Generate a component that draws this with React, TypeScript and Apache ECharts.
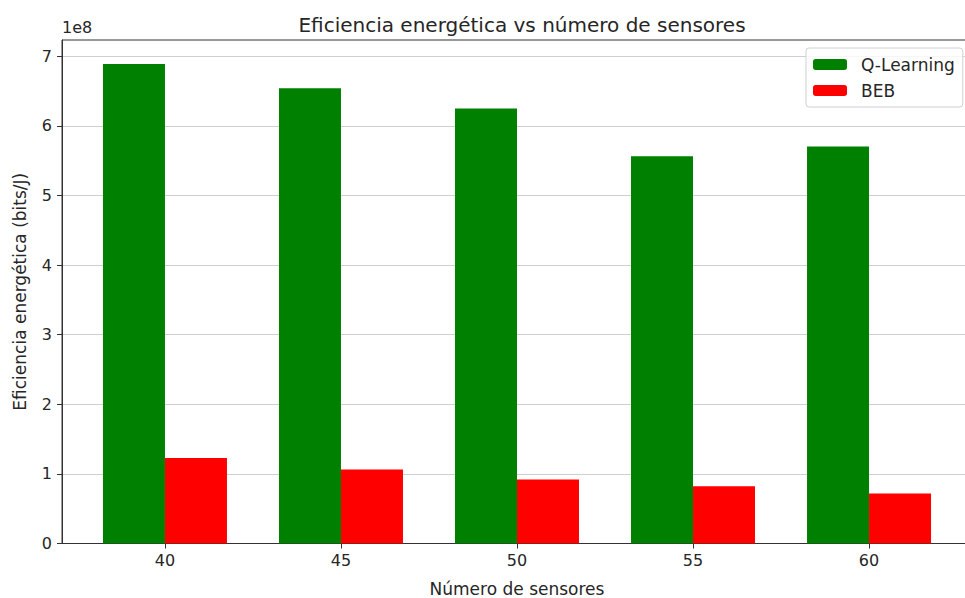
import React, { useEffect, useRef } from "react";
import * as echarts from "echarts";

const categories = ["40", "45", "50", "55", "60"];
const qLearning = [6.89e8, 6.54e8, 6.25e8, 5.565e8, 5.705e8];
const beb = [1.23e8, 1.065e8, 0.92e8, 0.823e8, 0.718e8];
const yTicks = [0, 1e8, 2e8, 3e8, 4e8, 5e8, 6e8, 7e8];

const FONT = "DejaVu Sans";
const TXT = "#262626";

export default function App() {
  const ref = useRef<HTMLDivElement>(null);
  useEffect(() => {
    if (!ref.current) return;
    const chart = echarts.init(ref.current, null, { renderer: "svg" });
    const idx = categories.map((_, i) => i);
    chart.setOption({
      animation: false,
      backgroundColor: "#fff",
      textStyle: { fontFamily: FONT },
      title: {
        text: "Eficiencia energética vs número de sensores",
        left: 517,
        top: 10,
        textAlign: "center",
        textStyle: { fontFamily: FONT, fontSize: 20, fontWeight: "normal", color: TXT },
      },
      legend: {
        left: 806,
        top: 48,
        orient: "vertical",
        itemWidth: 34,
        itemHeight: 11,
        itemGap: 9,
        padding: [8, 8, 8, 7],
        borderColor: "#d0d0d0",
        borderWidth: 1,
        borderRadius: 3,
        backgroundColor: "rgba(255,255,255,0.8)",
        textStyle: { fontFamily: FONT, fontSize: 17, color: TXT, padding: [0, 0, 0, 9] },
        data: ["Q-Learning", "BEB"],
      },
      grid: {
        left: 62,
        right: 8,
        top: 40,
        bottom: 598 - 543.5,
        outerBoundsMode: "none",
        containLabel: false,
        show: true,
        borderColor: "#333",
        borderWidth: 1,
        backgroundColor: "transparent",
      },
      graphic: [
        {
          type: "text",
          left: 62,
          top: 19,
          style: { text: "1e8", fontFamily: FONT, fontSize: 16, fill: TXT },
        },
      ],
      xAxis: {
        type: "value",
        min: -0.585,
        max: 4.585,
        name: "Número de sensores",
        nameLocation: "middle",
        nameGap: 37,
        nameTextStyle: { fontFamily: FONT, fontSize: 17, color: TXT },
        axisLine: { show: true, onZero: false, lineStyle: { color: "#333", width: 1 } },
        axisTick: { show: true, length: 5, lineStyle: { color: "#333" }, customValues: idx },
        axisLabel: {
          customValues: idx,
          fontFamily: FONT,
          fontSize: 16,
          color: TXT,
          margin: 9,
          formatter: (v: number) => categories[Math.round(v)] ?? "",
        },
        splitLine: { show: false },
      },
      yAxis: {
        type: "value",
        min: 0,
        max: 7.2345e8,
        interval: 1e8,
        name: "Eficiencia energética (bits/J)",
        nameLocation: "middle",
        nameGap: 34,
        nameTextStyle: { fontFamily: FONT, fontSize: 17, color: TXT },
        axisLine: { show: true, onZero: false, lineStyle: { color: "#333", width: 1 } },
        axisTick: { show: true, length: 5, lineStyle: { color: "#333" }, customValues: yTicks },
        axisLabel: {
          customValues: yTicks,
          fontFamily: FONT,
          fontSize: 16,
          color: TXT,
          margin: 10,
          formatter: (v: number) => String(Math.round(v / 1e8)),
        },
        splitLine: { show: true, lineStyle: { color: "#cfcfcf", width: 1.2 } },
      },
      series: [
        {
          name: "Q-Learning",
          type: "bar",
          barWidth: 62,
          barGap: "0%",
          itemStyle: { color: "#008000" },
          data: qLearning.map((v, i) => [i, v]),
        },
        {
          name: "BEB",
          type: "bar",
          barWidth: 62,
          barGap: "0%",
          itemStyle: { color: "#ff0000" },
          data: beb.map((v, i) => [i, v]),
        },
      ],
    });
    return () => chart.dispose();
  }, []);
  return (
    <div style={{ position: "fixed", left: 0, top: 0, width: 965, height: 598, overflow: "hidden" }}>
      <div ref={ref} style={{ width: 980, height: 598 }} />
    </div>
  );
}
